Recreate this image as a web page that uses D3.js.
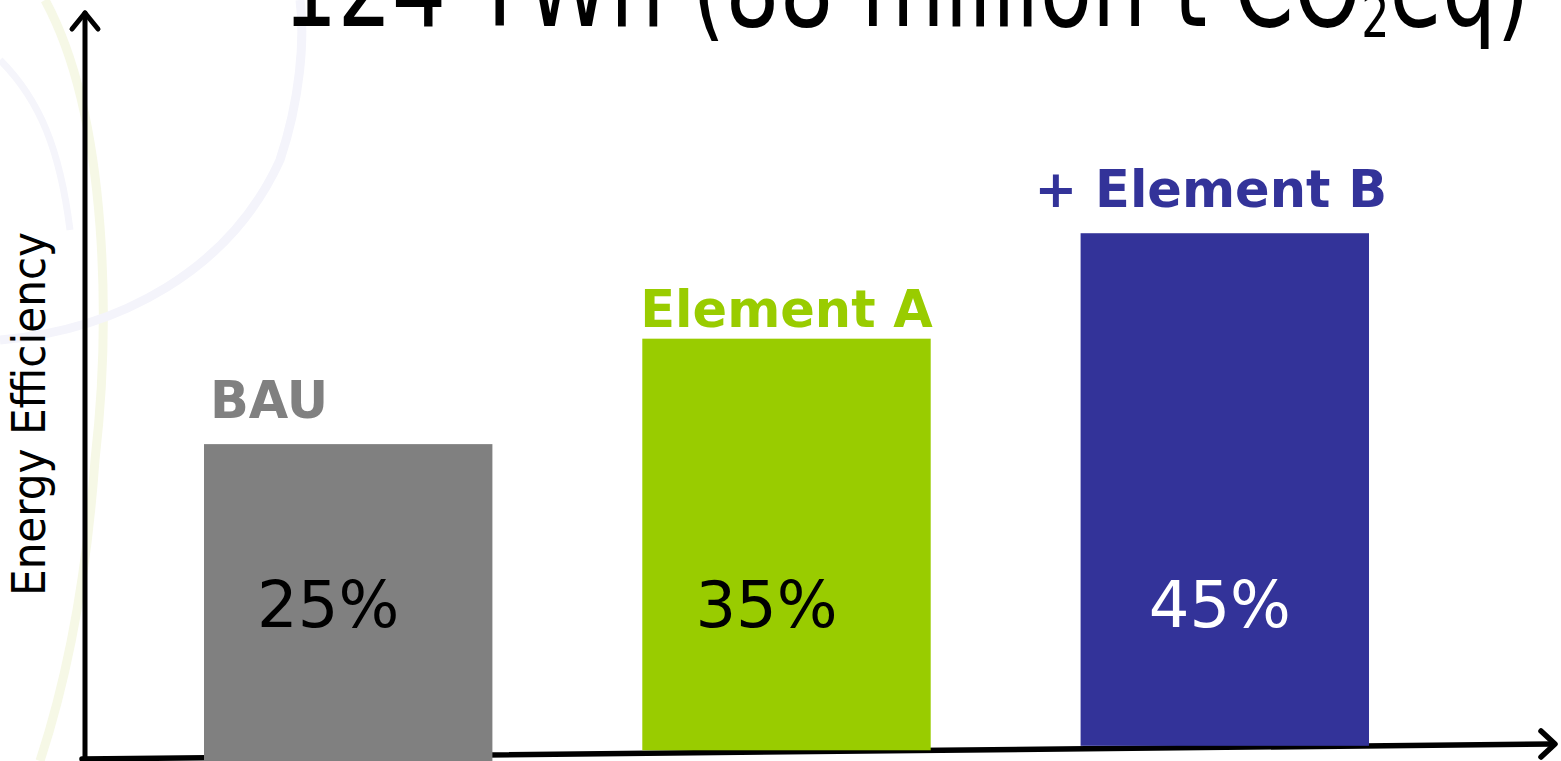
<!DOCTYPE html>
<html><head><meta charset="utf-8">
<script src="https://cdn.jsdelivr.net/npm/d3@7"></script>
<style>
html,body{margin:0;padding:0;background:#fff;overflow:hidden;}
svg{display:block;}
</style></head>
<body>
<svg id="chart" width="1561" height="761"></svg>
<script>
// ---- data ----
const categories = ["BAU", "Element A", "+ Element B"];
const values = [25, 35, 45];
const valueLabels = ["25%", "35%", "45%"];
const barColors = ["#808080", "#99cc00", "#333399"];
const valueTextColors = ["#000000", "#000000", "#ffffff"];
const titleParts = ["124 TWh (88 million t CO", "2", "eq)"];
const yAxisTitle = "Energy Efficiency";

// ---- layout ----
const W = 1561, H = 761;
const svg = d3.select("#chart");

// faint background swirls
const deco = svg.append("g").attr("fill", "none");
deco.append("path").attr("d", "M45,0 C110,120 110,330 95,460 C85,600 60,700 40,761")
  .attr("stroke", "#f6f8e6").attr("stroke-width", 9);
deco.append("path").attr("d", "M0,340 C120,330 230,270 280,160 C300,100 305,40 300,0")
  .attr("stroke", "#f4f4fb").attr("stroke-width", 9);
deco.append("path").attr("d", "M0,60 C40,100 60,150 70,230")
  .attr("stroke", "#f5f5fb").attr("stroke-width", 7);

const x = d3.scaleBand().domain(categories).range([204, 1369]).paddingInner(0.342).paddingOuter(0);
const y = d3.scaleLinear().domain([0, 50]).range([707.75, 180.5]);

// x axis: slightly sloping line
const ax0 = [82, 759], ax1 = [1553, 744];
const axisY = px => ax0[1] + (ax1[1] - ax0[1]) * (px - ax0[0]) / (ax1[0] - ax0[0]);

const axes = svg.append("g").attr("stroke", "#000").attr("fill", "none")
  .attr("stroke-linecap", "round").attr("stroke-linejoin", "round");
axes.append("line").attr("x1", 85).attr("y1", 759).attr("x2", 85).attr("y2", 13).attr("stroke-width", 5);
axes.append("path").attr("d", "M72,29 L85,13 L98,29").attr("stroke-width", 5);
axes.append("line").attr("x1", ax0[0]).attr("y1", ax0[1]).attr("x2", ax1[0]).attr("y2", ax1[1]).attr("stroke-width", 5.5);
axes.append("path").attr("d", `M${ax1[0]-12},${ax1[1]-13} L${ax1[0]+2},${ax1[1]} L${ax1[0]-12},${ax1[1]+13}`).attr("stroke-width", 5.5);

// bars
svg.append("g").selectAll("rect").data(categories).join("rect")
  .attr("x", d => x(d))
  .attr("width", x.bandwidth())
  .attr("y", (d, i) => y(values[i]))
  .attr("height", (d, i) => (i === 0 ? H : axisY(x(d)) - 3) - y(values[i]))
  .attr("fill", (d, i) => barColors[i]);

// category labels above bars
const catAnchor = ["start", "middle", "middle"];
const catDx = [6, 0, -14];
const catGap = [26, 12, 26];
svg.append("g").selectAll("text").data(categories).join("text")
  .attr("x", (d, i) => catAnchor[i] === "start" ? x(d) + catDx[i] : x(d) + x.bandwidth() / 2 + catDx[i])
  .attr("y", (d, i) => y(values[i]) - catGap[i])
  .attr("text-anchor", (d, i) => catAnchor[i])
  .attr("font-family", "'DejaVu Sans', Verdana, sans-serif")
  .attr("font-weight", "bold")
  .attr("font-size", 51)
  .attr("fill", (d, i) => barColors[i])
  .text(d => d);

// value labels inside bars
const valDx = [-20, -20, -5];
svg.append("g").selectAll("text").data(categories).join("text")
  .attr("x", (d, i) => x(d) + x.bandwidth() / 2 + valDx[i])
  .attr("y", 627)
  .attr("text-anchor", "middle")
  .attr("font-family", "'DejaVu Sans', Verdana, sans-serif")
  .attr("font-size", 64)
  .attr("fill", (d, i) => valueTextColors[i])
  .text((d, i) => valueLabels[i]);

// y axis title
const yt = svg.append("text")
  .attr("transform", "translate(45,414) rotate(-90)")
  .attr("text-anchor", "middle")
  .attr("font-family", "'Liberation Sans Narrow', 'DejaVu Sans Condensed', 'Arial Narrow', sans-serif")
  .attr("font-size", 40)
  .attr("fill", "#000")
  .text(yAxisTitle);
{
  const len = yt.node().getComputedTextLength();
  yt.attr("font-size", 40 * 364 / len);
}

// title (cut off at top) - condensed to fit width
const titleG = svg.append("g");
const title = titleG.append("text")
  .attr("x", 0).attr("y", 0)
  .attr("font-family", "'DejaVu Sans Condensed', 'Liberation Sans Narrow', sans-serif")
  .attr("font-size", 112)
  .attr("fill", "#000");
title.append("tspan").text(titleParts[0]);
title.append("tspan").attr("font-size", 58).attr("dy", 11).text(titleParts[1]);
title.append("tspan").attr("dy", -11).text(titleParts[2]);
{
  const len = title.node().getComputedTextLength();
  const sx = 1247 / len;
  titleG.attr("transform", `translate(283,26) scale(${sx},1)`);
}
</script>
</body></html>
